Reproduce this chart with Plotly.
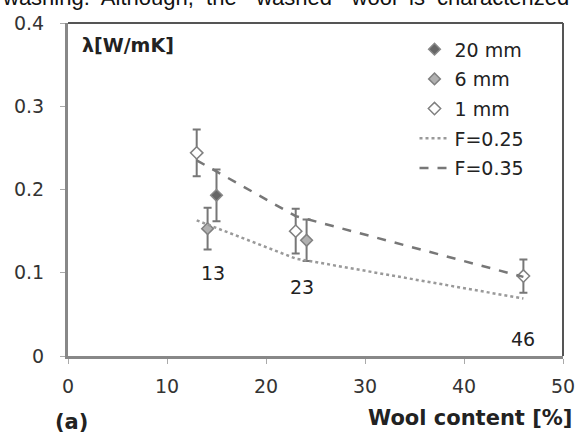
import plotly.graph_objects as go

# Data
x_20mm = [15.0]
y_20mm = [0.193]
e_20mm = [0.031]

x_6mm = [14.1, 24.1]
y_6mm = [0.153, 0.139]
e_6mm = [0.025, 0.025]

x_1mm = [13.0, 23.0, 46.0]
y_1mm = [0.244, 0.150, 0.096]
e_1mm = [0.028, 0.027, 0.020]

x_f025 = [13, 23, 46]
y_f025 = [0.163, 0.117, 0.069]

x_f035 = [13, 23, 46]
y_f035 = [0.235, 0.168, 0.095]

label_x = [14.6, 23.6, 46.0]
label_y = [0.100, 0.083, 0.021]
label_text = ["13", "23", "46"]

FONT = "DejaVu Sans"
fig = go.Figure()

err_style = dict(type="data", visible=True, color="#777777", thickness=2, width=4)

fig.add_trace(go.Scatter(x=x_20mm, y=y_20mm, mode="markers", name="20 mm",
                         legendgroup="a",
                         error_y=dict(array=e_20mm, **err_style),
                         marker=dict(symbol="diamond", size=9, color="#666666",
                                     line=dict(color="#888888", width=1.5))))
fig.add_trace(go.Scatter(x=x_6mm, y=y_6mm, mode="markers", name="6 mm",
                         legendgroup="b",
                         error_y=dict(array=e_6mm, **err_style),
                         marker=dict(symbol="diamond", size=9, color="#b0b0b0",
                                     line=dict(color="#808080", width=1.5))))
fig.add_trace(go.Scatter(x=x_1mm, y=y_1mm, mode="markers", name="1 mm",
                         legendgroup="c",
                         error_y=dict(array=e_1mm, **err_style),
                         marker=dict(symbol="diamond", size=9.5, color="white",
                                     line=dict(color="#808080", width=1.5))))
fig.add_trace(go.Scatter(x=x_f025, y=y_f025, mode="lines", name="F=0.25",
                         legendgroup="d",
                         line=dict(color="#999999", width=2.5, dash="dot")))
fig.add_trace(go.Scatter(x=x_f035, y=y_f035, mode="lines", name="F=0.35",
                         legendgroup="e",
                         line=dict(color="#777777", width=2.5, dash="dash")))

for lx, ly, lt in zip(label_x, label_y, label_text):
    fig.add_annotation(x=lx, y=ly, text=lt, showarrow=False, xref="x", yref="y",
                       font=dict(family=FONT, size=19, color="#222222"))

# frame top/right
fig.add_shape(type="line", xref="paper", yref="paper", x0=0, x1=1, y0=1, y1=1,
              line=dict(color="#555555", width=2))
fig.add_shape(type="line", xref="paper", yref="paper", x0=1, x1=1, y0=0, y1=1,
              line=dict(color="#555555", width=2))

fig.add_annotation(xref="paper", yref="paper", x=0.024, y=0.935, xanchor="left",
                   yanchor="middle", text="<b>λ[W/mK]</b>", showarrow=False,
                   font=dict(family=FONT, size=19, color="#222222"))
fig.add_annotation(xref="paper", yref="paper", x=1.022, y=-0.186, xanchor="right",
                   yanchor="middle", text="<b>Wool content [%]</b>", showarrow=False,
                   font=dict(family=FONT, size=21, color="#222222"))
fig.add_annotation(xref="paper", yref="paper", x=-0.03, y=-0.198, xanchor="left",
                   yanchor="middle", text="<b>(a)</b>", showarrow=False,
                   font=dict(family=FONT, size=21, color="#222222"))
fig.add_annotation(xref="paper", yref="paper", x=-0.137, y=1.0, xanchor="left",
                   yanchor="bottom", yshift=11,
                   text="washing.&nbsp; Although,&nbsp; the&nbsp; “washed”&nbsp; wool&nbsp; is&nbsp; characterized",
                   showarrow=False,
                   font=dict(family="Liberation Sans", size=22, color="#111111"))

fig.update_layout(
    width=587, height=437,
    margin=dict(l=68, r=14, t=23, b=81),
    paper_bgcolor="white", plot_bgcolor="white",
    showlegend=True,
    legend=dict(x=0.7, y=0.978, xanchor="left", yanchor="top",
                bgcolor="rgba(0,0,0,0)", traceorder="grouped", tracegroupgap=2,
                font=dict(family=FONT, size=19, color="#222222")),
    font=dict(family=FONT, color="#333333"),
)
fig.update_xaxes(range=[0, 50], tickvals=[0, 10, 20, 30, 40, 50],
                 showgrid=False, zeroline=False, showline=True,
                 linecolor="#888888", linewidth=3, ticks="outside", ticklen=5,
                 tickcolor="#aaaaaa", tickwidth=1, ticklabelstandoff=6,
                 tickfont=dict(family=FONT, size=19, color="#333333"))
fig.update_yaxes(range=[0, 0.4], tickvals=[0, 0.1, 0.2, 0.3, 0.4],
                 ticktext=["0", "0.1", "0.2", "0.3", "0.4"],
                 showgrid=False, zeroline=False, showline=True,
                 linecolor="#888888", linewidth=3, ticks="outside", ticklen=5,
                 tickcolor="#aaaaaa", tickwidth=1, ticklabelstandoff=12,
                 tickfont=dict(family=FONT, size=19, color="#333333"))

fig.write_html("out.html")
